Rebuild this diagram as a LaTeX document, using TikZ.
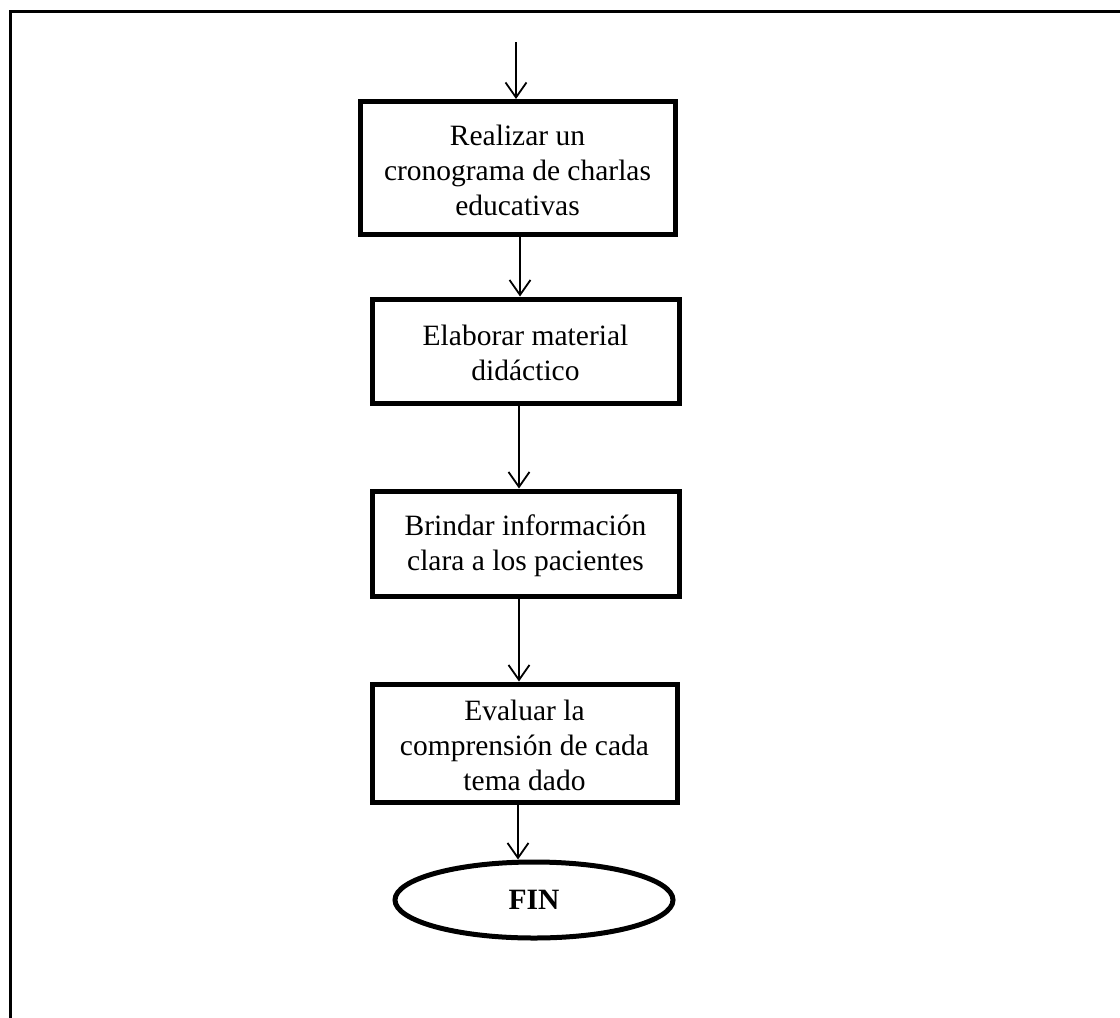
\documentclass[tikz,border=0pt]{standalone}
\usepackage{fontspec}
\setmainfont{Liberation Serif}
\usetikzlibrary{arrows.meta,shapes.geometric}
\begin{document}
\begin{tikzpicture}[x=1pt,y=-1pt,
  stepbox/.style={draw,line width=5pt,rectangle,inner sep=0pt,align=center,
    font=\fontsize{29.5}{35}\selectfont},
  endoval/.style={draw,line width=5pt,ellipse,inner sep=0pt,
    font=\fontsize{29.5}{35}\selectfont\bfseries},
  flow/.style={line width=1.8pt,-{Straight Barb[length=15pt,width=21pt,line width=1.8pt]}},
  frame/.style={line width=3pt}]
\useasboundingbox (0,0) rectangle (1120,1018);
\coordinate (fstart) at (10,1020);
\coordinate (fcorner) at (10,11);
\coordinate (fend) at (1122,11);
\draw[frame] (fstart) -- (fcorner) -- (fend);
\node[stepbox,minimum width=315pt,minimum height=133pt] (b1) at (517.5,168)
  {\strut Realizar un\\cronograma de charlas\\educativas};
\node[stepbox,minimum width=307pt,minimum height=104pt] (b2) at (525.5,351)
  {\strut Elaborar material\\didáctico};
\node[stepbox,minimum width=307pt,minimum height=105pt] (b3) at (525.5,543.5)
  {\strut Brindar información\\clara a los pacientes};
\node[stepbox,minimum width=305pt,minimum height=118pt] (b4) at (524.5,743)
  {\strut Evaluar la\\comprensión de cada\\tema dado};
\node[endoval,minimum width=278pt,minimum height=76pt] (fin) at (534,900) {FIN};
\coordinate (start) at (516,42);
\draw[flow] (start) -- (start |- b1.north);
\draw[flow] (b1.south -| 520,0) -- (b2.north -| 520,0);
\draw[flow] (b2.south -| 519,0) -- (b3.north -| 519,0);
\draw[flow] (b3.south -| 519,0) -- (b4.north -| 519,0);
\draw[flow] (b4.south -| 518,0) -- (fin.north -| 518,0);
\end{tikzpicture}
\end{document}
